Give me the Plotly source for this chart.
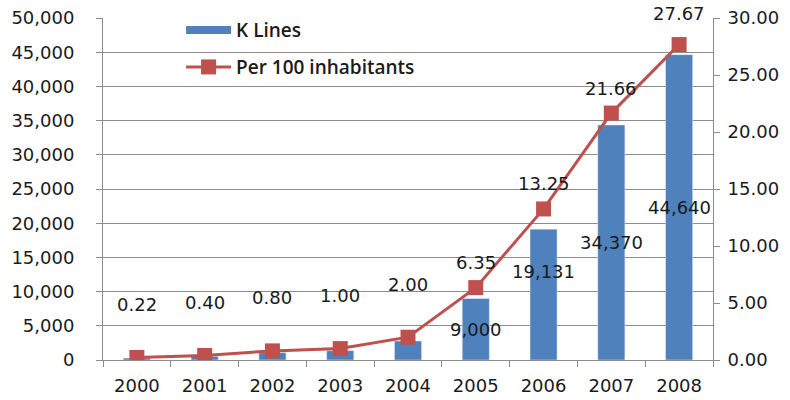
import plotly.graph_objects as go

# Mobile lines (thousands) and penetration per 100 inhabitants, 2000-2008
years = ["2000", "2001", "2002", "2003", "2004", "2005", "2006", "2007", "2008"]
k_lines = [280, 520, 1070, 1365, 2780, 9000, 19131, 34370, 44640]
per_100 = [0.22, 0.40, 0.80, 1.00, 2.00, 6.35, 13.25, 21.66, 27.67]

# Which bars carry a value label
bar_label_from = "2005"

BLUE = "#4F81BD"
RED = "#C0504D"
NUM_FONT = dict(family="DejaVu Sans", size=18, color="#1a1a1a")
GRID = "#8c8c8c"

fig = go.Figure()

fig.add_trace(go.Bar(
    x=years, y=k_lines, name="K Lines", marker_color=BLUE,
    showlegend=False,
))
# legend swatch for the bars: a flat blue band
fig.add_trace(go.Scatter(
    x=[years[0]], y=[None], mode="lines", name="K Lines",
    line=dict(color=BLUE, width=8), legend="legend",
))
fig.add_trace(go.Scatter(
    x=years, y=per_100, name="Per 100 inhabitants", yaxis="y2",
    mode="lines+markers", line=dict(color=RED, width=3),
    marker=dict(symbol="square", size=15, color=RED),
    legend="legend2",
))

annotations = []
# value labels above the penetration points (x given as category index)
for i, v in enumerate(per_100):
    shift = 53 if v < 3 else 25
    if i == len(years) - 1:
        shift = 31
    annotations.append(dict(
        x=i, y=v, xref="x", yref="y2", text=f"{v:.2f}",
        showarrow=False, yshift=shift, font=NUM_FONT,
    ))
# value labels inside the larger bars
start = years.index(bar_label_from)
for i in range(start, len(years)):
    v = k_lines[i]
    shift = 23 if years[i] == "2006" else 0
    annotations.append(dict(
        x=i, y=v / 2, xref="x", yref="y", text=f"{v:,}",
        showarrow=False, yshift=shift, font=NUM_FONT,
    ))

legend_font = dict(family="Open Sans", size=19, color="#1a1a1a", weight=600)

fig.update_layout(
    width=790, height=400,
    margin=dict(l=103, r=77, t=17, b=40),
    paper_bgcolor="white", plot_bgcolor="white",
    bargap=0.6,
    annotations=annotations,
    legend=dict(x=0.128, y=0.962, xanchor="left", yanchor="middle",
                itemwidth=45, font=legend_font, bgcolor="rgba(0,0,0,0)"),
    legend2=dict(x=0.128, y=0.854, xanchor="left", yanchor="middle",
                 itemwidth=45, font=legend_font, bgcolor="rgba(0,0,0,0)"),
    xaxis=dict(
        type="category", range=[-0.5, len(years) - 0.5], automargin=False,
        showline=True, linecolor=GRID, linewidth=1,
        ticks="outside", tickson="boundaries", ticklen=6, tickcolor=GRID,
        ticklabelstandoff=9,
        tickfont=NUM_FONT, showgrid=False, tickangle=0,
    ),
    yaxis=dict(
        range=[0, 50000], dtick=5000, tickformat=",d", automargin=False,
        showline=True, linecolor=GRID, linewidth=1,
        ticks="outside", ticklen=6, tickcolor=GRID,
        ticklabelstandoff=18,
        showgrid=True, gridcolor=GRID, gridwidth=1,
        tickfont=NUM_FONT, zeroline=False,
    ),
    yaxis2=dict(
        range=[0, 30], dtick=5, tickformat=".2f", automargin=False,
        overlaying="y", side="right",
        showline=True, linecolor=GRID, linewidth=1,
        ticks="outside", ticklen=6, tickcolor=GRID,
        ticklabelstandoff=4,
        showgrid=False, zeroline=False, tickfont=NUM_FONT,
    ),
)

fig.write_html("out.html")
